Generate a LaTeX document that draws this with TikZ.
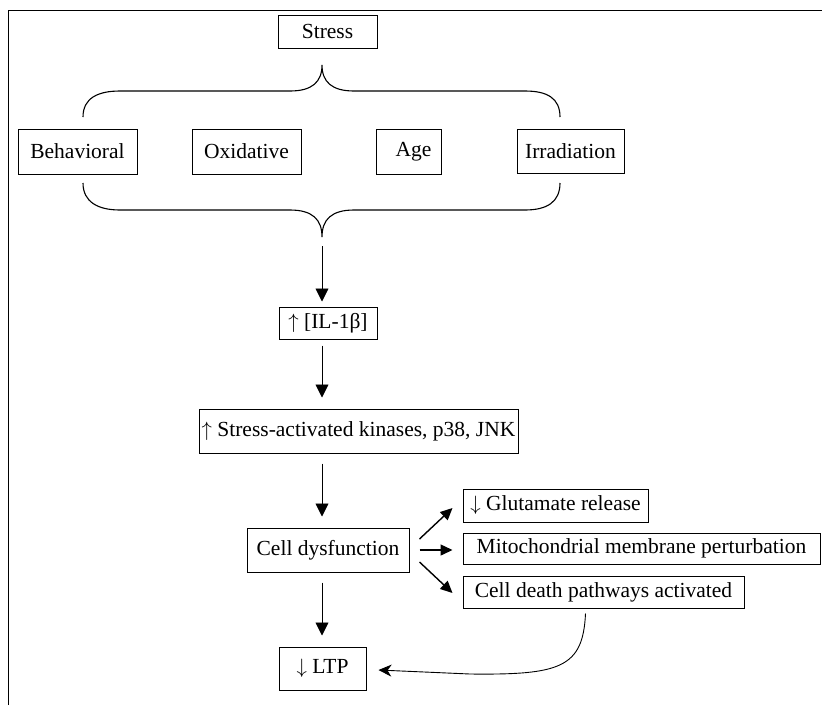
\documentclass[tikz,border=0pt]{standalone}
\usepackage{fontspec}
\setmainfont{Liberation Serif}
\usetikzlibrary{arrows.meta, positioning, calc}

\begin{document}
\begin{tikzpicture}[
    x=1pt, y=-1pt,
    factorbox/.style={rectangle, draw, line width=1pt, inner xsep=1pt, inner ysep=0pt, font=\fontsize{21.5}{24}\selectfont},
    arrow/.style={-{Triangle[length=13pt, width=13pt]}, line width=0.9pt},
    sidearrow/.style={-{Triangle[length=12pt, width=11pt]}, line width=1.4pt},
    backarrow/.style={-{Stealth[length=13pt, width=12pt, inset=4pt]}, line width=0.9pt},
    brace/.style={line width=1.1pt},
  ]
  \useasboundingbox (0,0) rectangle (822,705);
  % frame
  \draw[line width=0.9pt] (8,705) -- (8,10) -- (822,10);

  \node[factorbox, minimum width=99pt, minimum height=33pt] (stress) at (327.5,31.5) {Stress};

  % the four kinds of stress
  \node[factorbox, minimum width=119pt, minimum height=45pt] (behav) at (77.5,151.5) {Behavioral};
  \node[factorbox, minimum width=109pt, minimum height=45pt] (oxid) at (246.5,151.5) {Oxidative};
  \node[factorbox, minimum width=65pt, minimum height=45pt] (age) at (408.5,151.5) {\hspace{10pt}Age};
  \node[factorbox, minimum width=107pt, minimum height=44pt] (irrad) at (570.5,151) {Irradiation};

  \coordinate (uptip) at (322,65);
  \coordinate (lowtip) at (322,237);
  \draw[brace] (83,117) .. controls (83,98) and (98,91) .. (120,91) -- (290,91)
    .. controls (312,91) and (322,82) .. (uptip)
    .. controls (322,82) and (332,91) .. (354,91) -- (525,91)
    .. controls (547,91) and (560,98) .. (560,117);
  \draw[brace] (83,183) .. controls (83,202) and (98,210) .. (120,210) -- (290,210)
    .. controls (312,210) and (322,219) .. (lowtip)
    .. controls (322,219) and (332,210) .. (354,210) -- (525,210)
    .. controls (547,210) and (560,202) .. (560,183);

  % main chain
  \node[factorbox, minimum width=98pt, minimum height=32pt] (il) at (328,323) {$\uparrow$ [IL-1β]};
  \node[factorbox, minimum width=319pt, minimum height=44pt] (kin) at (358.5,431) {$\uparrow$ Stress-activated kinases, p38, JNK};
  \node[factorbox, minimum width=162pt, minimum height=44pt] (cell) at (328,550) {Cell dysfunction};
  \node[factorbox, minimum width=87pt, minimum height=43pt] (ltp) at (322.5,668.5) {$\downarrow$ LTP};

  % consequences
  \node[factorbox, minimum width=185pt, minimum height=33pt] (glu) at (555.5,505.5) {$\downarrow$ Glutamate release};
  \node[factorbox, minimum width=357pt, minimum height=31pt] (mito) at (641.5,548.5) {Mitochondrial membrane perturbation};
  \node[factorbox, minimum width=281pt, minimum height=32pt] (death) at (603.5,592) {Cell death pathways activated};

  \draw[arrow, shorten <=9pt, shorten >=5pt] (lowtip) -- (lowtip |- il.north);
  \draw[arrow, shorten <=6pt, shorten >=11pt] (il.south -| lowtip) -- (kin.north -| lowtip);
  \draw[arrow, shorten <=10pt, shorten >=11pt] (kin.south -| lowtip) -- (cell.north -| lowtip);
  \draw[arrow, shorten <=10pt, shorten >=11pt] (cell.south -| lowtip) -- (ltp.north -| lowtip);

  \draw[sidearrow] ([xshift=10pt, yshift=11pt]cell.east) -- ([xshift=-10pt, yshift=-2.5pt]glu.west);
  \draw[sidearrow] ([xshift=10pt]cell.east) -- ([xshift=-10pt]cell.east -| mito.west);
  \draw[sidearrow] ([xshift=10pt, yshift=-12pt]cell.east) -- ([xshift=-10pt, yshift=-1pt]death.west);

  % back to LTP
  \draw[backarrow] ([xshift=-18pt, yshift=-5pt]death.south)
    .. controls (583,668) and (560,675) .. (470,674) -- ([xshift=12pt, yshift=-1.5pt]ltp.east);
\end{tikzpicture}
\end{document}
